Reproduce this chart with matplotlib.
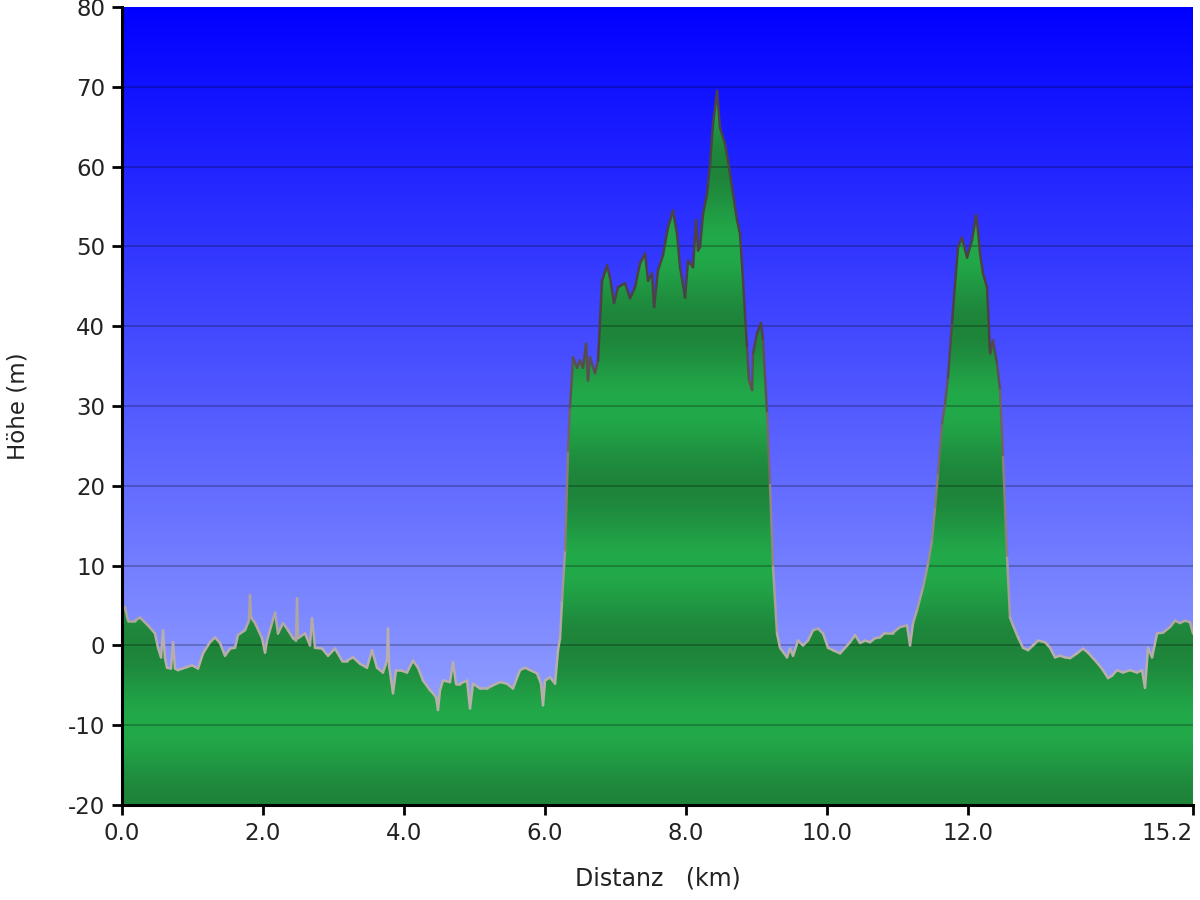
import numpy as np
import matplotlib
matplotlib.use("Agg")
import matplotlib.pyplot as plt
from matplotlib.patches import Polygon
from matplotlib.collections import LineCollection

plt.rcParams["axes.unicode_minus"] = False

# --- Profile data (distance km, elevation m) ---
dist_km = [0.000, 0.043, 0.085, 0.185, 0.255, 0.369, 0.468, 0.511, 0.554, 0.582,
           0.610, 0.639, 0.695, 0.724, 0.752, 0.795, 0.894, 0.994, 1.079, 1.150,
           1.249, 1.320, 1.391, 1.462, 1.533, 1.604, 1.646, 1.746, 1.802, 1.817,
           1.831, 1.888, 1.987, 2.030, 2.058, 2.129, 2.172, 2.214, 2.285, 2.356,
           2.427, 2.470, 2.484, 2.498, 2.597, 2.668, 2.697, 2.739, 2.839, 2.924,
           3.023, 3.122, 3.193, 3.279, 3.378, 3.477, 3.548, 3.619, 3.704, 3.761,
           3.775, 3.790, 3.846, 3.889, 3.946, 4.045, 4.130, 4.201, 4.272, 4.371,
           4.414, 4.457, 4.485, 4.513, 4.556, 4.655, 4.698, 4.740, 4.797, 4.897,
           4.939, 4.982, 5.081, 5.181, 5.266, 5.365, 5.464, 5.549, 5.649, 5.720,
           5.791, 5.890, 5.947, 5.975, 6.004, 6.075, 6.146, 6.188, 6.217, 6.245,
           6.288, 6.330, 6.358, 6.401, 6.458, 6.500, 6.543, 6.586, 6.614, 6.642,
           6.713, 6.756, 6.813, 6.884, 6.926, 6.983, 7.040, 7.139, 7.210, 7.281,
           7.352, 7.423, 7.466, 7.522, 7.551, 7.607, 7.678, 7.749, 7.820, 7.877,
           7.920, 7.991, 8.033, 8.104, 8.147, 8.175, 8.204, 8.246, 8.303, 8.346,
           8.388, 8.445, 8.487, 8.558, 8.601, 8.658, 8.729, 8.771, 8.814, 8.871,
           8.899, 8.942, 8.956, 9.013, 9.069, 9.098, 9.155, 9.197, 9.240, 9.296,
           9.339, 9.438, 9.480, 9.524, 9.594, 9.665, 9.736, 9.807, 9.878, 9.949,
           10.020, 10.091, 10.191, 10.262, 10.333, 10.404, 10.475, 10.546, 10.616, 10.687,
           10.758, 10.829, 10.943, 11.042, 11.142, 11.184, 11.227, 11.283, 11.369, 11.440,
           11.496, 11.539, 11.582, 11.638, 11.681, 11.723, 11.780, 11.823, 11.865, 11.922,
           11.993, 12.064, 12.121, 12.149, 12.178, 12.220, 12.277, 12.320, 12.362, 12.419,
           12.461, 12.504, 12.561, 12.603, 12.646, 12.717, 12.788, 12.859, 12.930, 13.001,
           13.100, 13.171, 13.242, 13.313, 13.384, 13.455, 13.554, 13.639, 13.710, 13.781,
           13.852, 13.923, 13.994, 14.051, 14.122, 14.207, 14.306, 14.406, 14.477, 14.519,
           14.562, 14.619, 14.690, 14.775, 14.874, 14.945, 15.016, 15.087, 15.158, 15.200]

elev_m = [4.1, 4.8, 3.1, 3.1, 3.5, 2.5, 1.5, -0.3, -1.5, 1.9,
          -1.6, -2.8, -2.9, 0.4, -2.9, -3.1, -2.8, -2.5, -2.9, -1.0,
          0.4, 1.0, 0.3, -1.3, -0.4, -0.3, 1.3, 1.9, 3.1, 6.3,
          3.5, 2.8, 0.9, -0.9, 0.6, 2.8, 4.1, 1.5, 2.8, 1.9,
          0.9, 0.6, 5.9, 0.9, 1.5, 0.0, 3.4, -0.3, -0.4, -1.3,
          -0.4, -1.9, -1.9, -1.5, -2.3, -2.8, -0.6, -2.8, -3.4, -1.9,
          2.1, -2.5, -6.0, -3.1, -3.1, -3.4, -1.9, -2.8, -4.4, -5.6,
          -6.0, -6.5, -8.1, -5.6, -4.4, -4.6, -2.1, -4.8, -4.8, -4.4,
          -7.9, -4.8, -5.4, -5.4, -5.0, -4.6, -4.8, -5.4, -3.1, -2.8,
          -3.1, -3.5, -4.8, -7.5, -4.4, -4.0, -4.8, -0.6, 0.9, 5.6,
          11.9, 24.4, 29.8, 36.1, 34.8, 35.7, 34.8, 37.8, 33.2, 36.1,
          34.1, 35.7, 45.7, 47.6, 46.1, 42.9, 44.9, 45.4, 43.5, 44.9,
          47.9, 49.1, 45.7, 46.6, 42.4, 47.0, 48.9, 52.4, 54.5, 51.6,
          47.4, 43.6, 48.2, 47.4, 53.3, 49.5, 49.9, 54.1, 56.6, 60.4,
          65.4, 69.5, 64.9, 62.9, 60.8, 57.4, 53.3, 51.6, 45.7, 37.3,
          33.2, 32.0, 36.6, 39.1, 40.4, 38.2, 29.1, 20.1, 9.8, 1.5,
          -0.3, -1.5, -0.4, -1.3, 0.6, 0.0, 0.6, 1.9, 2.1, 1.5,
          -0.3, -0.6, -1.0, -0.3, 0.4, 1.3, 0.3, 0.6, 0.4, 0.9,
          1.0, 1.6, 1.6, 2.3, 2.5, 0.0, 2.8, 4.4, 7.3, 10.3,
          13.2, 17.3, 21.6, 27.8, 30.3, 33.6, 40.4, 45.4, 49.9, 51.1,
          48.6, 50.8, 53.9, 52.0, 49.1, 46.6, 44.9, 36.6, 38.2, 35.3,
          32.0, 23.6, 11.0, 3.5, 2.5, 1.0, -0.3, -0.6, 0.0, 0.6,
          0.4, -0.3, -1.5, -1.3, -1.5, -1.6, -1.0, -0.4, -0.9, -1.6,
          -2.3, -3.1, -4.1, -3.8, -3.1, -3.4, -3.1, -3.4, -3.1, -5.3,
          -0.3, -1.5, 1.5, 1.6, 2.3, 3.1, 2.8, 3.1, 2.9, 1.5]

x_ticks = [0.0, 2.0, 4.0, 6.0, 8.0, 10.0, 12.0, 15.2]
x_labels = ["0.0", "2.0", "4.0", "6.0", "8.0", "10.0", "12.0", "15.2"]
y_ticks = list(range(-20, 81, 10))

x = np.array(dist_km)
y = np.array(elev_m)
y_min, y_max = -20, 80
x_min, x_max = 0.0, 15.2

fig = plt.figure(figsize=(12, 9), dpi=100)
ax = fig.add_axes([122 / 1200, 1 - 805 / 900, (1193 - 122) / 1200, (805 - 7) / 900])
ax.set_xlim(x_min, x_max)
ax.set_ylim(y_min, y_max)

# --- sky gradient background ---
h = np.linspace(0, 1, 400)[:, None]  # 0 = top, 1 = bottom
top = np.array([0, 0, 255]) / 255
bot = np.array([165, 180, 255]) / 255
sky = top + (bot - top) * h
sky = np.repeat(sky[:, None, :], 2, axis=1)
ax.imshow(sky, extent=[x_min, x_max, y_min, y_max], aspect="auto", zorder=0,
          interpolation="bilinear")

# --- green fill with banded shading ---
yy = np.linspace(y_max, y_min, 800)
shade = (1 + np.cos(2 * np.pi * yy / 20)) / 2  # 1 = darkest at multiples of 20
light = np.array([34, 170, 74]) / 255
dark = np.array([30, 132, 58]) / 255
green = light + (dark - light) * shade[:, None]
green = np.repeat(green[:, None, :], 2, axis=1)
im = ax.imshow(green, extent=[x_min, x_max, y_min, y_max], aspect="auto", zorder=1,
               interpolation="bilinear")
verts = np.column_stack([np.r_[x[0], x, x[-1]], np.r_[y_min, y, y_min]])
poly = Polygon(verts, closed=True, facecolor="none", edgecolor="none")
ax.add_patch(poly)
im.set_clip_path(poly)

# --- outline, lighter grey low, darker high ---
pts = np.column_stack([x, y]).reshape(-1, 1, 2)
segs = np.concatenate([pts[:-1], pts[1:]], axis=1)
mid = (y[:-1] + y[1:]) / 2
t = np.clip((mid - 0) / 40, 0, 1)[:, None]
c_low = np.array([185, 175, 170]) / 255
c_high = np.array([75, 65, 70]) / 255
cols = c_low + (c_high - c_low) * t
ax.add_collection(LineCollection(segs, colors=cols, linewidths=1.8, zorder=3,
                                 capstyle="round", joinstyle="round"))

# --- grid ---
for gy in y_ticks[1:-1]:
    ax.axhline(gy, color="black", alpha=0.28, lw=1.2, zorder=2)

# --- axes styling ---
for s in ["top", "right"]:
    ax.spines[s].set_visible(False)
for s in ["left", "bottom"]:
    ax.spines[s].set_linewidth(2.2)
    ax.spines[s].set_color("black")
    ax.spines[s].set_zorder(5)

ax.set_xticks(x_ticks)
ax.set_xticklabels(x_labels)
ax.set_yticks(y_ticks)
ax.tick_params(axis="both", length=7, width=2, color="black", labelsize=16.5,
               labelcolor="#222222", pad=5)
ax.get_xticklabels()[-1].set_horizontalalignment("right")

ax.set_xlabel("Distanz   (km)", fontsize=17, color="#222222", labelpad=16)
ax.set_ylabel("Höhe (m)", fontsize=16.5, color="#222222", labelpad=28)

fig.savefig("out.png", dpi=100)
